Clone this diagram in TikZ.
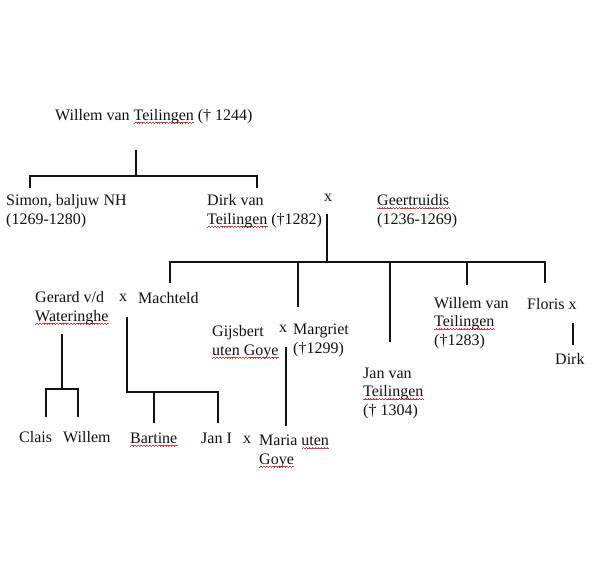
\documentclass[tikz,border=0pt]{standalone}
\usepackage{fontspec}
\setmainfont{Liberation Serif}
\usepackage{xcolor}
\usepackage{tikz}
\definecolor{ink}{HTML}{111111}
\definecolor{spellred}{HTML}{D83A3A}
\newsavebox\wavebox
\sbox\wavebox{\color{spellred}\rule[0pt]{0.8pt}{0.5pt}\rule[0.5pt]{0.6pt}{0.5pt}\rule[1pt]{0.8pt}{0.5pt}\rule[0.5pt]{0.6pt}{0.5pt}}
% spell-check style squiggle under a word
\newcommand\spell[1]{\setbox0\hbox{#1}\rlap{\lower3.4pt\hbox to\wd0{\xleaders\copy\wavebox\hfil}}\box0\relax}
\tikzset{
  person/.style={anchor=base west,align=left,inner sep=0pt,text=ink,
                 font=\fontsize{16}{18.5}\selectfont},
  wed/.style={anchor=base,inner sep=0pt,text=ink,
              font=\fontsize{16}{18.5}\selectfont},
  tree/.style={draw=ink,line width=1.8pt}
}

\begin{document}
\begin{tikzpicture}[x=1pt,y=-1pt]
  \fill[white] (0,0) rectangle (600,573);
  \useasboundingbox (0,0) rectangle (600,573);

  % generation 1 and 2 (multi-line nodes sit on their last baseline)
  \node[person] (willem) at (55,120) {Willem van \spell{Teilingen} († 1244)};
  \node[person] (simon) at (6,224) {Simon, baljuw NH\\(1269-1280)};
  \node[person] (dirk) at (207,224) {Dirk van\\\spell{Teilingen} (†1282)};
  \node[wed] (xdg) at (328,201) {x};
  \node[person] (geert) at (377,224) {\spell{Geertruidis}\\(1236-1269)};

  % children of Dirk and Geertruidis
  \node[person] (gerard) at (35,321) {Gerard v/d\\\spell{Wateringhe}};
  \node[wed] (xgm) at (123,301) {x};
  \node[person] (macht) at (138,303) {Machteld};
  \node[person] (gijs) at (212,355) {Gijsbert\\\spell{uten Goye}};
  \node[wed] (xgij) at (283,332) {x};
  \node[person] (marg) at (293,353) {Margriet\\(†1299)};
  \node[person] (jan) at (363,415) {Jan van\\\spell{Teilingen}\\(† 1304)};
  \node[person] (wil2) at (434,345) {Willem van\\\spell{Teilingen}\\(†1283)};
  \node[person] (floris) at (527,309) {Floris x};
  \node[person] (dirk2) at (555,364) {Dirk};

  % grandchildren
  \node[person] (clais) at (19,442) {Clais};
  \node[person] (wil3) at (63,442) {Willem};
  \node[person] (bart) at (130,443) {\spell{Bartine}};
  \node[person] (jan1) at (201,443) {Jan I};
  \node[wed] (xjm) at (247,443) {x};
  \node[person] (maria) at (259,464) {Maria \spell{uten}\\\spell{Goye}};

  % stems and bars
  \coordinate (pWillem) at (136,150);
  \coordinate (bTop) at (136,176);
  \coordinate (sSimon) at (30,188);
  \coordinate (sDirk) at (257,188);
  \coordinate (pMarr) at (327,214);
  \coordinate (bKids) at (327,262);
  \coordinate (sMacht) at (170,283);
  \coordinate (sMarg) at (298,307);
  \coordinate (sJan) at (390,342);
  \coordinate (sWil2) at (467,285);
  \coordinate (sFloris) at (545,283);
  \coordinate (pGerard) at (62,334);
  \coordinate (bGerard) at (62,389);
  \coordinate (sClais) at (46,417);
  \coordinate (sWil3) at (78,417);
  \coordinate (pMacht) at (127,317);
  \coordinate (bMacht) at (127,392);
  \coordinate (sBart) at (154,423);
  \coordinate (sJan1) at (218,423);
  \coordinate (pGijs) at (286,347);
  \coordinate (sMaria) at (286,426);
  \coordinate (pFloris) at (573,323);
  \coordinate (sDirk2) at (573,345);

  \draw[tree] (pWillem) -- (bTop);
  \draw[tree] (sSimon) |- (bTop) -| (sDirk);
  \draw[tree] (pMarr) -- (bKids);
  \draw[tree] (sMacht) |- (bKids) -| (sFloris);
  \draw[tree] (bKids -| sMarg) -- (sMarg);
  \draw[tree] (bKids -| sJan) -- (sJan);
  \draw[tree] (bKids -| sWil2) -- (sWil2);
  \draw[tree] (pGerard) -- (bGerard);
  \draw[tree] (sClais) |- (bGerard) -| (sWil3);
  \draw[tree] (pMacht) -- (bMacht) -| (sJan1);
  \draw[tree] (bMacht -| sBart) -- (sBart);
  \draw[tree] (pGijs) -- (sMaria);
  \draw[tree] (pFloris) -- (sDirk2);
\end{tikzpicture}
\end{document}
